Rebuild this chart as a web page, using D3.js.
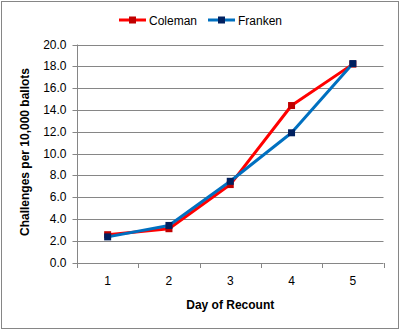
<!DOCTYPE html>
<html>
<head>
<meta charset="utf-8">
<script src="https://cdn.jsdelivr.net/npm/d3@7"></script>
<style>
  html, body { margin: 0; padding: 0; background: #fff; }
  svg { display: block; font-family: "Liberation Sans", Arial, sans-serif; }
</style>
</head>
<body>
<svg id="chart" width="400" height="330"></svg>
<script>
// Recount challenges per 10,000 ballots, by day
const days = ["1", "2", "3", "4", "5"];
const coleman = [2.55, 3.1, 7.15, 14.4, 18.2];
const franken = [2.35, 3.4, 7.45, 11.9, 18.25];
const yTicks = [0, 2, 4, 6, 8, 10, 12, 14, 16, 18, 20];

const series = [
  { name: "Coleman", values: coleman, line: "#ff0000", marker: "#c00000" },
  { name: "Franken", values: franken, line: "#0070c0", marker: "#002060" }
];

const svg = d3.select("#chart");
const gray = "#868686";

// chart frame
svg.append("rect")
  .attr("x", 1.5).attr("y", 1.5)
  .attr("width", 397).attr("height", 327)
  .attr("fill", "#fff").attr("stroke", gray).attr("stroke-width", 1);

const plot = { left: 77, right: 383.5, top: 44.5, bottom: 262.5 };

const x = d3.scaleBand().domain(days).range([plot.left, plot.right]);
const y = d3.scaleLinear().domain([0, 20]).range([plot.bottom, plot.top]);

// horizontal gridlines
svg.append("g").selectAll("line").data(yTicks.filter(d => d > 0)).join("line")
  .attr("x1", plot.left).attr("x2", plot.right)
  .attr("y1", d => Math.round(y(d)) + 0.5).attr("y2", d => Math.round(y(d)) + 0.5)
  .attr("stroke", gray).attr("stroke-width", 1);

// y axis
const yAxis = svg.append("g")
  .attr("transform", `translate(${plot.left + 0.5},0)`)
  .call(d3.axisLeft(y).tickValues(yTicks).tickFormat(d3.format(".1f")).tickSize(5).tickPadding(6))
  .call(g => g.select(".domain").remove());
yAxis.selectAll(".tick").attr("transform", d => `translate(0,${Math.round(y(d)) + 0.5})`);
yAxis.selectAll(".tick line").attr("stroke", gray);
yAxis.selectAll(".tick text").attr("fill", "#000").attr("font-size", 12)
  .attr("font-family", "Liberation Sans, Arial, sans-serif");
svg.append("line")
  .attr("x1", plot.left + 0.5).attr("x2", plot.left + 0.5)
  .attr("y1", plot.top).attr("y2", plot.bottom + 5)
  .attr("stroke", gray);

// x axis
svg.append("line")
  .attr("x1", plot.left).attr("x2", plot.right)
  .attr("y1", Math.round(y(0)) + 0.5).attr("y2", Math.round(y(0)) + 0.5)
  .attr("stroke", gray);
const boundaries = days.map(d => x(d)).concat([x(days[days.length - 1]) + x.bandwidth()]);
svg.append("g").selectAll("line").data(boundaries).join("line")
  .attr("x1", d => Math.round(d) + 0.5).attr("x2", d => Math.round(d) + 0.5)
  .attr("y1", Math.round(y(0))).attr("y2", Math.round(y(0)) + 5)
  .attr("stroke", gray);
svg.append("g").selectAll("text").data(days).join("text")
  .attr("x", d => x(d) + x.bandwidth() / 2)
  .attr("y", 284.5)
  .attr("text-anchor", "middle")
  .attr("font-size", 12)
  .text(d => d);

// axis titles
svg.append("text")
  .attr("x", (plot.left + plot.right) / 2).attr("y", 309)
  .attr("text-anchor", "middle")
  .attr("font-size", 12).attr("font-weight", "bold")
  .text("Day of Recount");
svg.append("text")
  .attr("transform", "translate(29,152) rotate(-90)")
  .attr("text-anchor", "middle")
  .attr("font-size", 12).attr("font-weight", "bold")
  .text("Challenges per 10,000 ballots");

// series lines and markers
const line = d3.line()
  .x((d, i) => x(days[i]) + x.bandwidth() / 2)
  .y(d => y(d));

series.forEach(s => {
  svg.append("path")
    .datum(s.values)
    .attr("d", line)
    .attr("fill", "none")
    .attr("stroke", s.line)
    .attr("stroke-width", 3)
    .attr("stroke-linejoin", "round");
  svg.append("g").selectAll("rect").data(s.values).join("rect")
    .attr("x", (d, i) => x(days[i]) + x.bandwidth() / 2 - 3.5)
    .attr("y", d => y(d) - 3.5)
    .attr("width", 7).attr("height", 7)
    .attr("fill", s.marker);
});

// legend
const legendX = [119, 208];
series.forEach((s, i) => {
  const g = svg.append("g").attr("transform", `translate(${legendX[i]},20)`);
  g.append("line").attr("x1", 0).attr("x2", 27).attr("y1", 0).attr("y2", 0)
    .attr("stroke", s.line).attr("stroke-width", 3);
  g.append("rect").attr("x", 10).attr("y", -3.5).attr("width", 7).attr("height", 7)
    .attr("fill", s.marker);
  g.append("text").attr("x", 30).attr("y", 4.5)
    .attr("font-size", 12).text(s.name);
});
</script>
</body>
</html>
